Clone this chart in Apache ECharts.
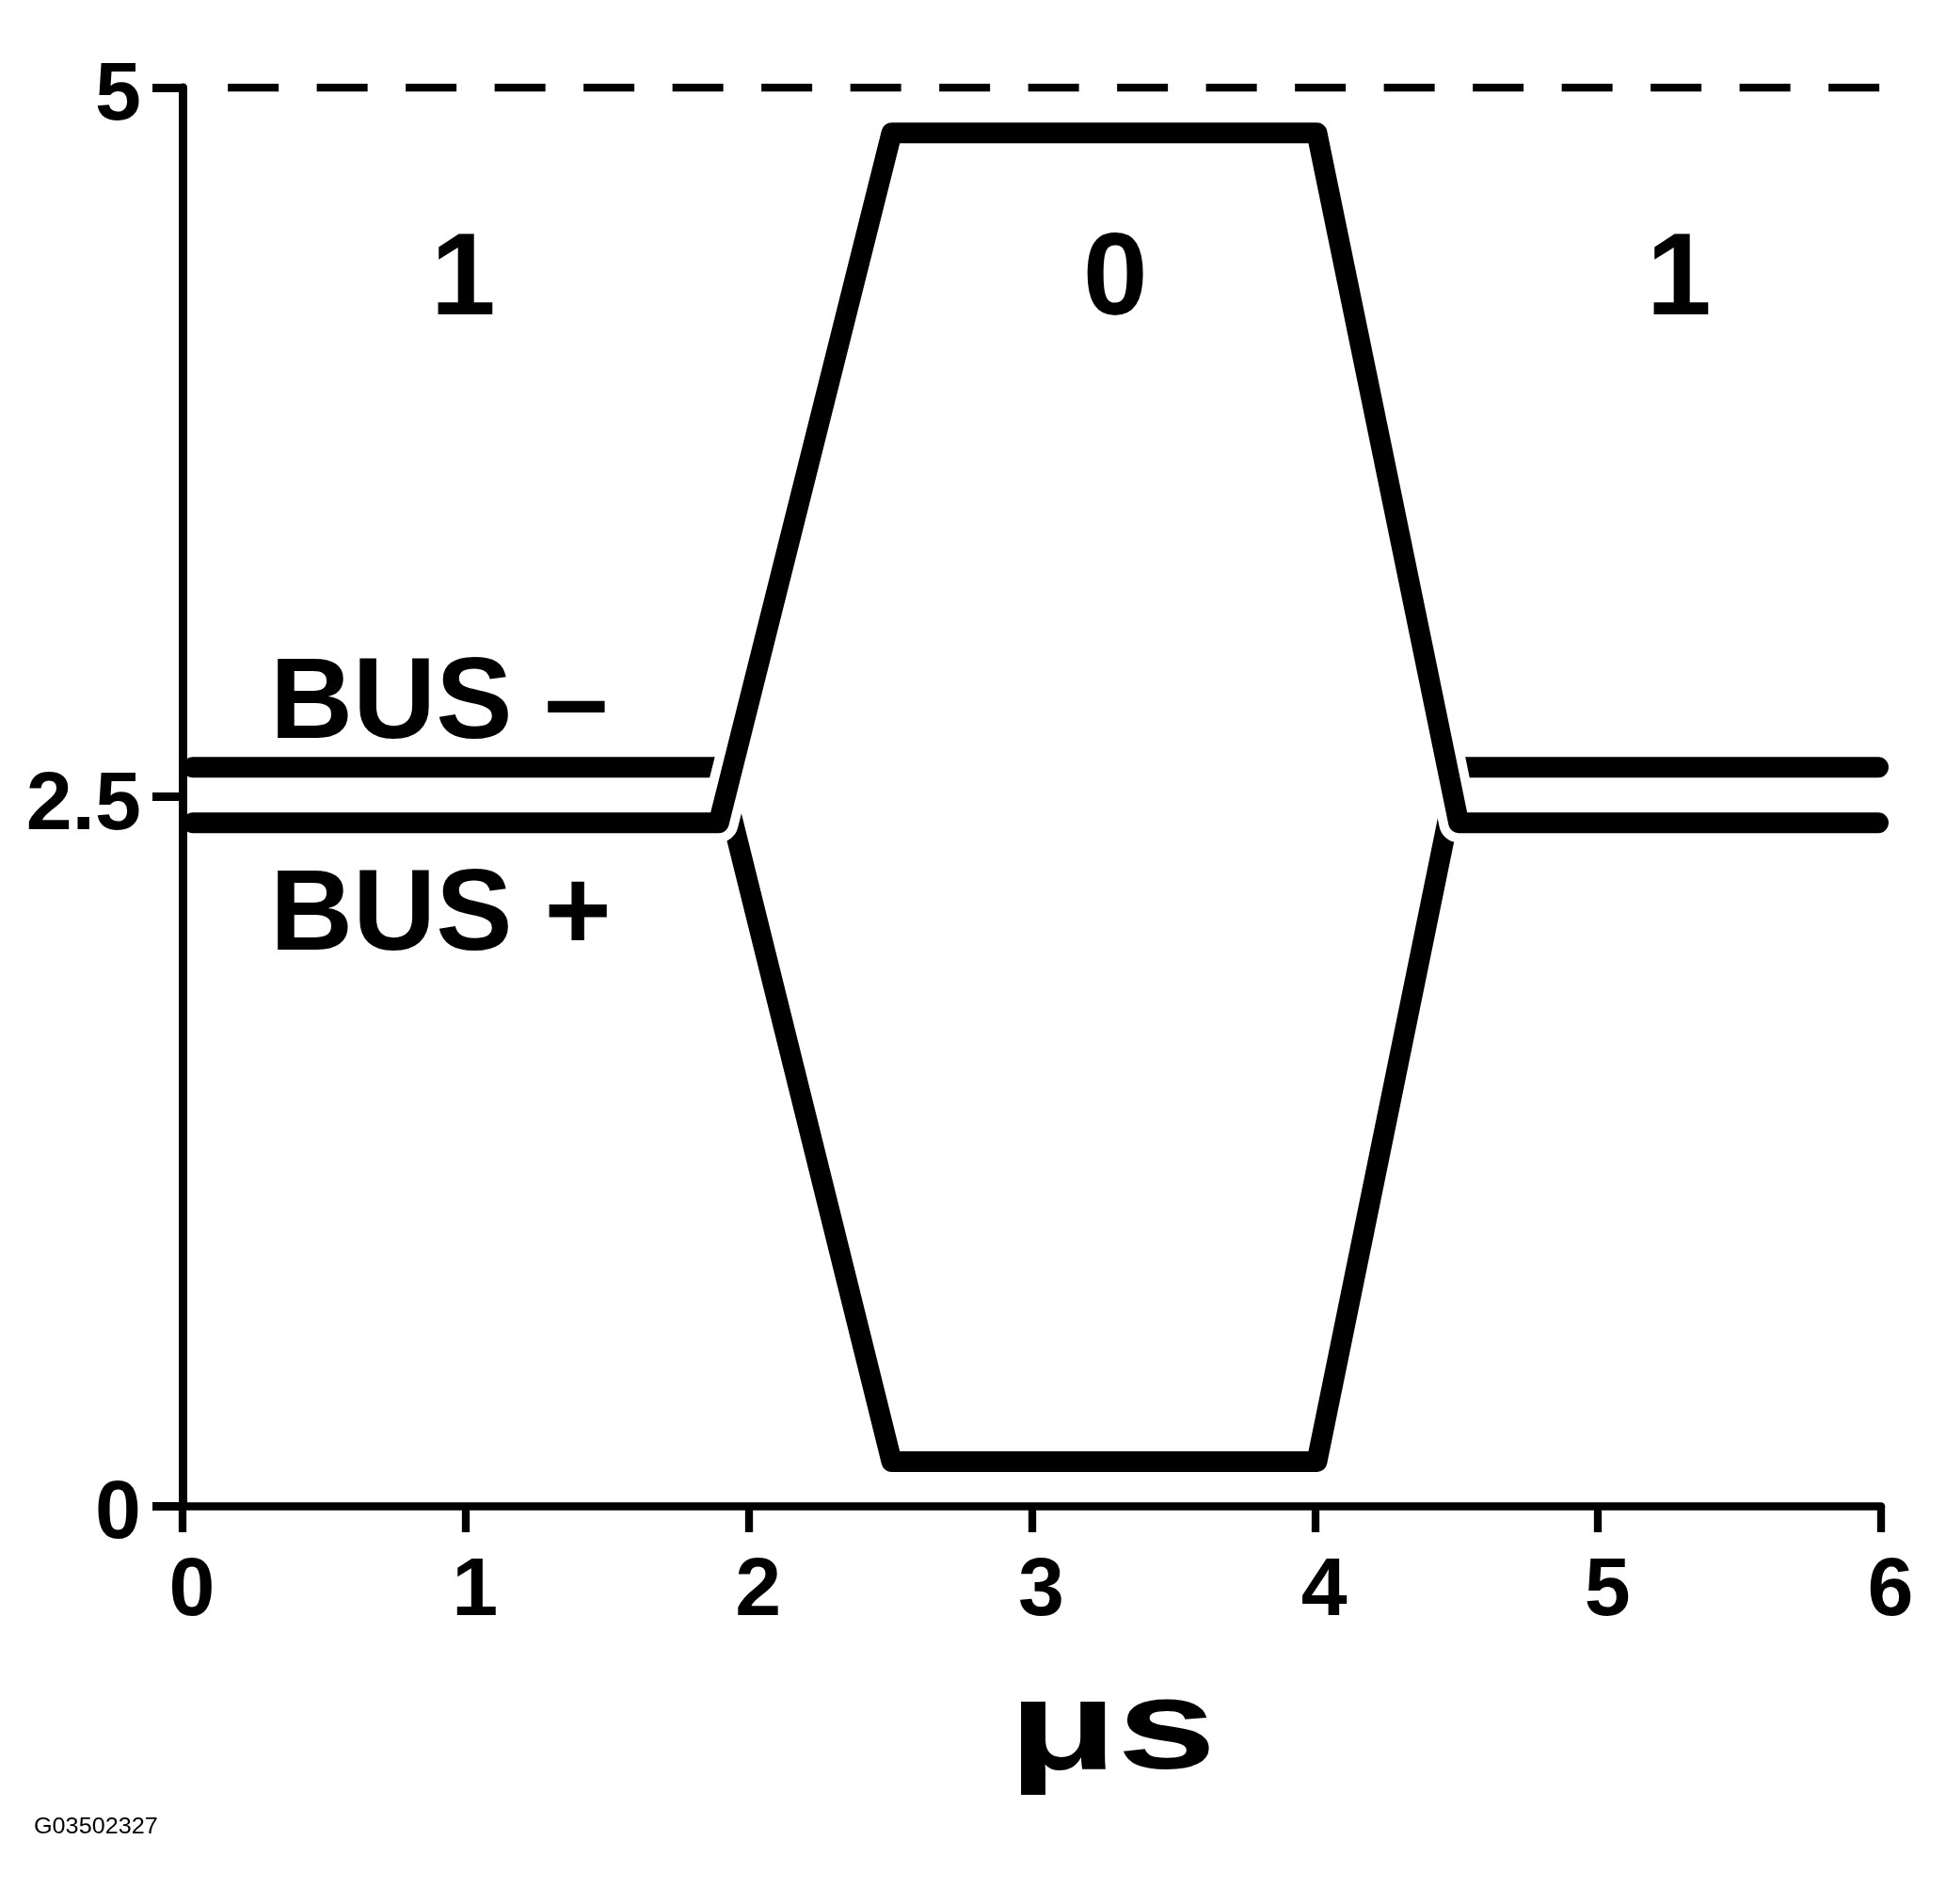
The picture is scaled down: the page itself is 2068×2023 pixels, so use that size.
<!DOCTYPE html>
<html>
<head>
<meta charset="utf-8">
<script src="https://cdn.jsdelivr.net/npm/echarts@6/dist/echarts.min.js"></script>
<style>
  html, body { margin: 0; padding: 0; background: #fff; overflow: hidden; }
  #chart { width: 2068px; height: 2023px; }
</style>
</head>
<body>
<div id="chart"></div>
<script>
// ---- data ----
var busPlus  = [[0.037, 2.408], [1.894, 2.408], [2.505, 4.84], [4.007, 4.84], [4.508, 2.408], [5.99, 2.408]];
var busMinus = [[0.037, 2.604], [1.896, 2.604], [2.505, 0.156], [4.007, 0.156], [4.508, 2.604], [5.99, 2.604]];
var refLevel = [[0.16, 5], [5.994, 5]];
var bitLabels = [[0.991, 4.315, '1'], [3.295, 4.315, '0'], [5.286, 4.315, '1']];
var busLabels = [[0.309, 2.818, 'BUS \u2013'], [0.309, 2.072, 'BUS +']];
var xTitle = '\u03bcs';
var figureId = 'G03502327';

var chart = echarts.init(document.getElementById('chart'));
var tickFont = '"Liberation Sans", Arial, sans-serif';

function textLabelSeries(name, data, size, align) {
  return {
    name: name, type: 'scatter', data: data, symbol: 'circle', symbolSize: 0.01, silent: true, z: 6,
    itemStyle: { color: '#000', opacity: 1 },
    label: { show: true, position: [0, 0], formatter: function (p) { return p.data[2]; },
      color: '#000000', opacity: 1, textBorderWidth: 0,
      fontFamily: tickFont, fontWeight: 'bold', fontSize: size, align: align, verticalAlign: 'middle' },
    emphasis: { disabled: true }
  };
}

chart.setOption({
  animation: false,
  backgroundColor: '#ffffff',
  grid: { left: 194, right: 69, top: 93, bottom: 423, containLabel: false, outerBoundsMode: 'none' },
  xAxis: {
    type: 'value', min: 0, max: 6, interval: 1, z: 10,
    axisLine: { show: true, onZero: false, lineStyle: { color: '#000', width: 8.5 } },
    axisTick: { show: true, length: 28, lineStyle: { color: '#000', width: 8.3 } },
    axisLabel: { margin: 48, color: '#000', fontFamily: tickFont, fontWeight: 'bold', fontSize: 88, padding: [0, 0, 0, 20] },
    splitLine: { show: false }
  },
  yAxis: {
    type: 'value', min: 0, max: 5, interval: 2.5, z: 10,
    axisLine: { show: true, onZero: false, lineStyle: { color: '#000', width: 9 } },
    axisTick: { show: true, length: 32, lineStyle: { color: '#000', width: 9 } },
    axisLabel: { margin: 44, color: '#000', fontFamily: tickFont, fontWeight: 'bold', fontSize: 88, verticalAlign: 'top', lineHeight: 20 },
    splitLine: { show: false }
  },
  graphic: [
    { type: 'text', x: 1182, y: 1842, scaleX: 1.4, style: { text: xTitle, font: 'bold 135px "Liberation Sans", Arial, sans-serif', fill: '#000', align: 'center', verticalAlign: 'middle' } },
    { type: 'text', x: 36, y: 1941, scaleX: 1.05, style: { text: figureId, font: '24px "Liberation Sans", Arial, sans-serif', fill: '#000', align: 'left', verticalAlign: 'middle' } }
  ],
  series: [
    {
      name: 'ref', type: 'line', data: refLevel, showSymbol: false, silent: true, z: 2,
      lineStyle: { color: '#000', width: 8.5, type: [54, 40.5], cap: 'butt' }
    },
    {
      name: 'BUS -', type: 'line', data: busMinus, showSymbol: false, silent: true, z: 3,
      lineStyle: { color: '#000', width: 22, cap: 'round', join: 'round' }
    },
    {
      name: 'BUS + gap', type: 'line', data: busPlus, showSymbol: false, silent: true, z: 4,
      lineStyle: { color: '#fff', width: 42, cap: 'butt', join: 'round' }
    },
    {
      name: 'BUS +', type: 'line', data: busPlus, showSymbol: false, silent: true, z: 5,
      lineStyle: { color: '#000', width: 22, cap: 'round', join: 'round' }
    },
    textLabelSeries('bits', bitLabels, 124, 'center'),
    textLabelSeries('buslabels', busLabels, 122, 'left')
  ]
});
</script>
</body>
</html>
